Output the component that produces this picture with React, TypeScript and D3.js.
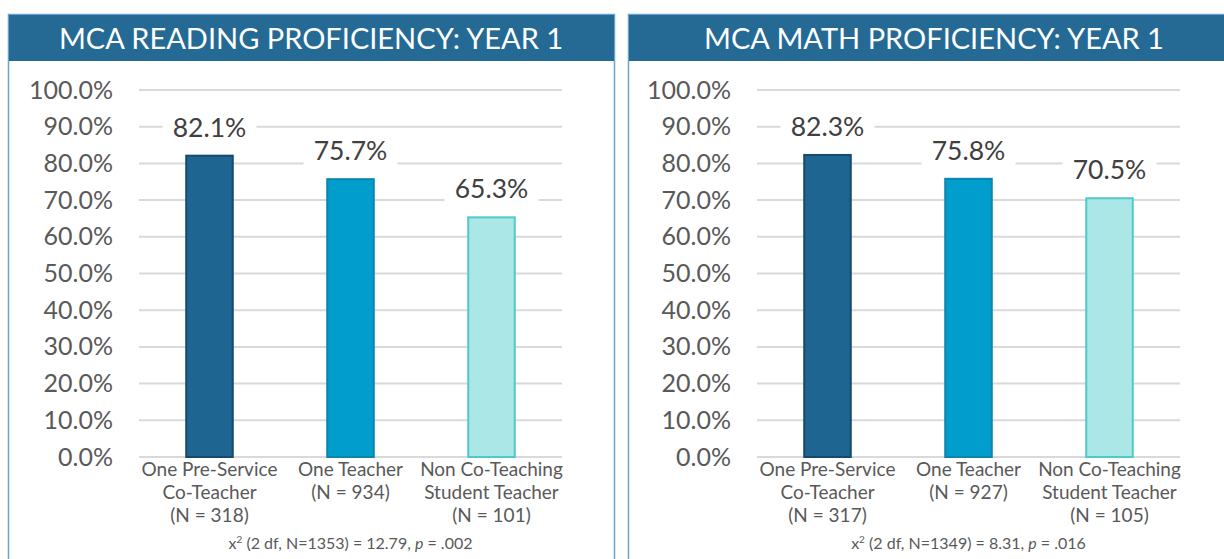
import React from "react";
import * as d3 from "d3";

const categoryLines: string[][] = [
  ["One Pre-Service", "Co-Teacher"],
  ["One Teacher"],
  ["Non Co-Teaching", "Student Teacher"],
];
const readingN = [318, 934, 101];
const mathN = [317, 927, 105];
const readingValues = [82.1, 75.7, 65.3];
const mathValues = [82.3, 75.8, 70.5];
const yTicks = [0, 10, 20, 30, 40, 50, 60, 70, 80, 90, 100];
const readingTitle = "MCA READING PROFICIENCY: YEAR 1";
const mathTitle = "MCA MATH PROFICIENCY: YEAR 1";
const readingStat = { df: 2, n: 1353, chi: "12.79", p: ".002" };
const mathStat = { df: 2, n: 1349, chi: "8.31", p: ".016" };

const barFills = ["#1f6592", "#019dcd", "#abe7e6"];
const barStrokes = ["#15496e", "#0a85ad", "#4fcaca"];
const FONT = "Lato, 'Open Sans', sans-serif";

type PanelProps = {
  x0: number;
  width: number;
  plotLeft: number;
  plotRight: number;
  title: string;
  values: number[];
  ns: number[];
  stat: { df: number; n: number; chi: string; p: string };
};

function Panel({ x0, width, plotLeft, plotRight, title, values, ns, stat }: PanelProps) {
  const y = d3.scaleLinear().domain([0, 100]).range([457, 90]);
  const x = d3
    .scaleBand<number>()
    .domain(values.map((_, i) => i))
    .range([plotLeft, plotRight])
    .paddingInner(0.67)
    .paddingOuter(0.335);
  const bw = x.bandwidth();
  const fmt = (v: number) => v.toFixed(1) + "%";
  return (
    <g>
      <rect x={x0 + 0.5} y={14.5} width={width} height={600} fill="#fff" stroke="#6aa3cf" strokeWidth={1.5} />
      <rect x={x0 + 1} y={15} width={width - 1} height={46} fill="#246a95" />
      <text
        x={x0 + width / 2}
        y={49}
        textAnchor="middle"
        fill="#ffffff"
        fontFamily={FONT}
        fontSize={29}
      >
        {title}
      </text>
      {yTicks.map((t) => (
        <g key={t}>
          <line x1={plotLeft} x2={plotRight} y1={y(t)} y2={y(t)} stroke="#d9d9d9" strokeWidth={2} />
          <text
            x={plotLeft - 26}
            y={y(t) + 8.5}
            textAnchor="end"
            fill="#595959"
            fontFamily={FONT}
            fontSize={25}
          >
            {fmt(t)}
          </text>
        </g>
      ))}
      {values.map((v, i) => {
        const cx = (x(i) as number) + bw / 2;
        const top = y(v);
        const base = top - 19;
        return (
          <g key={i}>
            <rect
              x={x(i)}
              y={top}
              width={bw}
              height={y(0) - top}
              fill={barFills[i]}
              stroke={barStrokes[i]}
              strokeWidth={2}
            />
            <rect x={cx - 47} y={base - 23} width={94} height={29} fill="#fff" />
            <text x={cx} y={base} textAnchor="middle" fill="#404040" fontFamily={FONT} fontSize={26.5}>
              {fmt(v)}
            </text>
          </g>
        );
      })}
      {values.map((_, i) => {
        const cx = (x(i) as number) + bw / 2;
        const lines = [...categoryLines[i], `(N = ${ns[i]})`];
        return (
          <text key={"c" + i} textAnchor="middle" fill="#595959" fontFamily={FONT} fontSize={19}>
            {lines.map((l, j) => (
              <tspan key={j} x={cx} y={476 + j * 23}>
                {l}
              </tspan>
            ))}
          </text>
        );
      })}
      <text
        x={(x(1) as number) + bw / 2}
        y={549}
        textAnchor="middle"
        fill="#595959"
        fontFamily={FONT}
        fontSize={16}
      >
        {"x"}
        <tspan fontSize={10} dy={-6}>
          2
        </tspan>
        <tspan dy={6}>{` (${stat.df} df, N=${stat.n}) = ${stat.chi}, `}</tspan>
        <tspan fontStyle="italic">p</tspan>
        <tspan>{` = ${stat.p}`}</tspan>
      </text>
    </g>
  );
}

export default function App() {
  return (
    <svg
      width={1224}
      height={559}
      style={{ position: "absolute", left: 0, top: 0, background: "#fff" }}
    >
      <rect x={0} y={0} width={1224} height={559} fill="#fff" />
      <Panel
        x0={8}
        width={606}
        plotLeft={139}
        plotRight={562}
        title={readingTitle}
        values={readingValues}
        ns={readingN}
        stat={readingStat}
      />
      <Panel
        x0={628}
        width={612}
        plotLeft={757}
        plotRight={1180}
        title={mathTitle}
        values={mathValues}
        ns={mathN}
        stat={mathStat}
      />
    </svg>
  );
}
